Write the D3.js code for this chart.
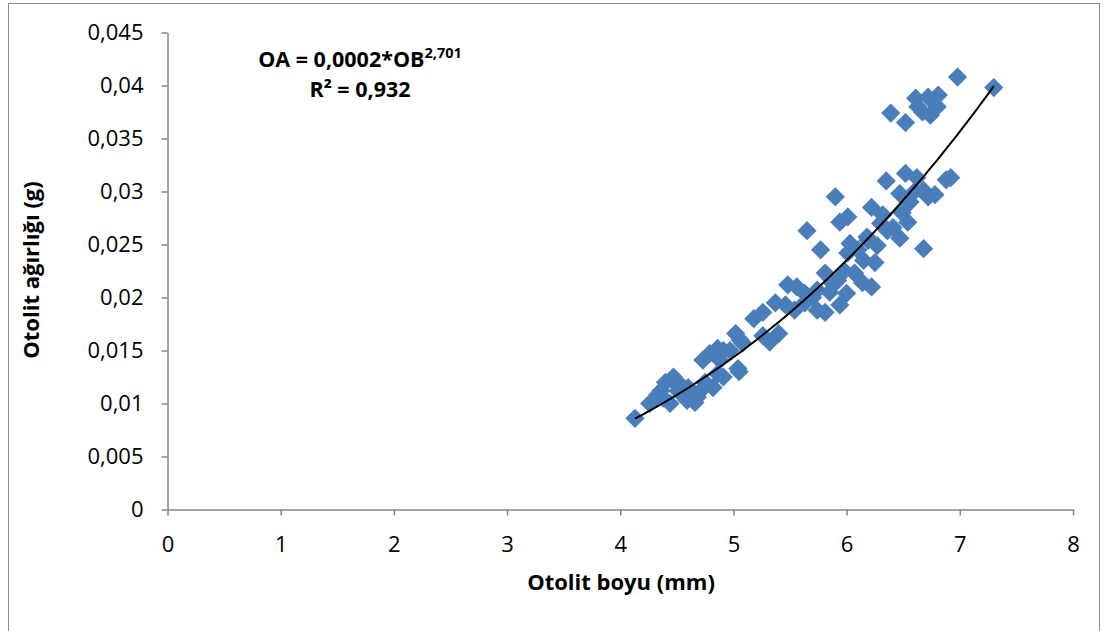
<!DOCTYPE html>
<html>
<head>
<meta charset="utf-8">
<script src="https://cdn.jsdelivr.net/npm/d3@7"></script>
<style>
  html, body { margin: 0; padding: 0; background: #ffffff; }
  svg { display: block; }
  text { font-family: "Open Sans", "DejaVu Sans", sans-serif; fill: #000; }
</style>
</head>
<body>
<svg id="chart" width="1109" height="631"></svg>
<script>
// Otolith length (mm) for each fish
const otolithLength = [
  4.13, 4.26, 4.33, 4.40, 4.47, 4.51, 4.60, 4.44, 4.59, 4.66,
  4.71, 4.73, 4.79, 4.86, 4.88, 4.86, 4.82, 4.97, 5.04, 5.08,
  4.36, 4.53, 4.62, 4.75, 5.05, 4.91, 4.68, 4.38, 4.49,
  4.91, 5.02, 5.06, 5.18, 5.26, 5.26, 5.32, 5.37, 5.40, 5.46,
  5.48, 5.54, 5.63, 5.63, 5.74, 5.81, 5.88, 5.94, 5.56, 5.74,
  6.00, 5.81, 5.92, 6.07, 6.14, 6.22, 6.01, 6.15, 6.25, 6.03,
  6.19, 5.77, 5.65, 5.90, 5.94, 6.01, 6.36, 6.22, 6.32, 6.49,
  6.54, 6.41, 6.30, 6.18, 6.27, 6.47, 6.68, 6.35, 6.52, 6.62,
  6.92, 6.47, 6.68, 6.78, 6.88, 5.70, 5.85, 6.10, 6.56, 6.60,
  6.72, 5.98,
  6.98, 7.30, 6.39, 6.52, 6.61, 6.72, 6.81, 6.67, 6.74, 6.80, 6.63
];

// Otolith weight (g) for each fish, same order
const otolithWeight = [
  0.0086, 0.0100, 0.0108, 0.0120, 0.0125, 0.0112, 0.0115, 0.0100, 0.0103, 0.0101,
  0.0112, 0.0141, 0.0147, 0.0152, 0.0141, 0.0128, 0.0115, 0.0150, 0.0133, 0.0157,
  0.0112, 0.0118, 0.0108, 0.0120, 0.0130, 0.0125, 0.0106, 0.0105, 0.0119,
  0.0150, 0.0166, 0.0160, 0.0180, 0.0186, 0.0164, 0.0158, 0.0195, 0.0166, 0.0193,
  0.0212, 0.0188, 0.0195, 0.0204, 0.0188, 0.0186, 0.0213, 0.0193, 0.0210, 0.0207,
  0.0204, 0.0223, 0.0216, 0.0223, 0.0214, 0.0210, 0.0242, 0.0235, 0.0233, 0.0251,
  0.0254, 0.0245, 0.0263, 0.0295, 0.0271, 0.0276, 0.0263, 0.0285, 0.0278, 0.0280,
  0.0271, 0.0266, 0.0270, 0.0257, 0.0249, 0.0256, 0.0246, 0.0310, 0.0317, 0.0313,
  0.0313, 0.0298, 0.0301, 0.0297, 0.0311, 0.0200, 0.0205, 0.0245, 0.0290, 0.0300,
  0.0295, 0.0225,
  0.0408, 0.0398, 0.0374, 0.0365, 0.0388, 0.0389, 0.0391, 0.0375, 0.0372, 0.0380, 0.0380
];

// Tick values and their printed labels (comma decimal separator)
const xTicks = [0, 1, 2, 3, 4, 5, 6, 7, 8];
const yTicks = [0, 0.005, 0.01, 0.015, 0.02, 0.025, 0.03, 0.035, 0.04, 0.045];
const yTickLabels = ["0", "0,005", "0,01", "0,015", "0,02", "0,025", "0,03", "0,035", "0,04", "0,045"];

// Power trend line OA = a * OB^b (label shows a rounded to 4 decimals)
const fitCoefficient = 0.000186;
const fitExponent = 2.701;
const fitR2Label = "0,932";

const svg = d3.select("#chart");
const W = 1109, H = 631;

svg.append("rect").attr("width", W).attr("height", H).attr("fill", "#fff");

// chart frame
svg.append("rect")
  .attr("x", 8.5).attr("y", 3.5)
  .attr("width", 1091).attr("height", 660)
  .attr("fill", "none").attr("stroke", "#8c8c8c").attr("stroke-width", 1);

const x = d3.scaleLinear().domain([0, 8]).range([167.5, 1073]);
const y = d3.scaleLinear().domain([0, 0.045]).range([509.5, 32.5]);

const axisColor = "#868686";

// x axis
const xAxis = svg.append("g")
  .attr("transform", `translate(0,${y(0)})`)
  .call(d3.axisBottom(x).tickValues(xTicks).tickSize(6).tickSizeOuter(0).tickFormat(d3.format("d")));
xAxis.select(".domain").attr("stroke", axisColor).attr("stroke-width", 1.5);
xAxis.selectAll(".tick line").attr("stroke", axisColor).attr("stroke-width", 1.5);
xAxis.selectAll(".tick text")
  .attr("y", 42).attr("dy", 0)
  .style("font-size", "22px").style("font-family", "Open Sans").attr("fill", "#000");

// y axis
const yAxis = svg.append("g")
  .attr("transform", `translate(${x(0)},0)`)
  .call(d3.axisLeft(y).tickValues(yTicks).tickSize(6).tickSizeOuter(0).tickPadding(18)
    .tickFormat((d, i) => yTickLabels[i]));
yAxis.select(".domain").attr("stroke", axisColor).attr("stroke-width", 1.5);
yAxis.selectAll(".tick line").attr("stroke", axisColor).attr("stroke-width", 1.5);
yAxis.selectAll(".tick text")
  .style("font-size", "22px").style("font-family", "Open Sans").attr("fill", "#000");

// data points as diamonds
const points = otolithLength.map((v, i) => ({ len: v, wt: otolithWeight[i] }));
const diamond = d3.symbol().type(d3.symbolSquare).size(185);
svg.append("g").selectAll("path")
  .data(points)
  .join("path")
  .attr("d", diamond)
  .attr("transform", d => `translate(${x(d.len)},${y(d.wt)}) rotate(45)`)
  .attr("fill", "#4a7ebb");

// power trend line across the data range
const xMin = d3.min(otolithLength), xMax = d3.max(otolithLength);
const trend = d3.range(0, 101).map(i => {
  const v = xMin + (xMax - xMin) * i / 100;
  return [v, fitCoefficient * Math.pow(v, fitExponent)];
});
svg.append("path")
  .datum(trend)
  .attr("d", d3.line().x(d => x(d[0])).y(d => y(d[1])))
  .attr("fill", "none").attr("stroke", "#000").attr("stroke-width", 2);

// equation label
const eq = svg.append("text")
  .attr("x", 360).attr("y", 67)
  .attr("text-anchor", "middle")
  .style("font-size", "21.5px").style("font-weight", "bold");
eq.append("tspan").text("OA = 0,0002*OB");
eq.append("tspan").attr("dy", -9).style("font-size", "14.5px").text("2,701");

const r2 = svg.append("text")
  .attr("x", 360).attr("y", 97)
  .attr("text-anchor", "middle")
  .style("font-size", "21.5px").style("font-weight", "bold");
r2.append("tspan").text("R² = " + fitR2Label);

// axis titles
svg.append("text")
  .attr("x", 621).attr("y", 590)
  .attr("text-anchor", "middle")
  .style("font-size", "22px").style("font-weight", "bold")
  .text("Otolit boyu (mm)");

svg.append("text")
  .attr("transform", "translate(39,270) rotate(-90)")
  .attr("text-anchor", "middle")
  .style("font-size", "22px").style("font-weight", "bold")
  .text("Otolit ağırlığı (g)");
</script>
</body>
</html>
